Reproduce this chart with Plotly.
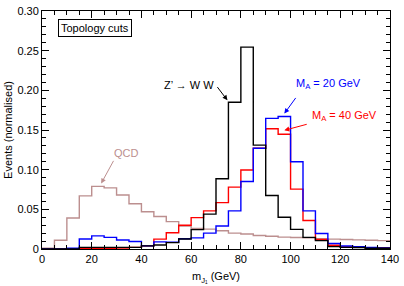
import plotly.graph_objects as go

bin_edges = list(range(0, 145, 5))
qcd = [0.001, 0.011, 0.039, 0.067, 0.079, 0.077, 0.068, 0.057, 0.047, 0.041,
       0.0345, 0.029, 0.026, 0.025, 0.023, 0.020, 0.019, 0.017, 0.016, 0.015,
       0.0145, 0.014, 0.013, 0.0125, 0.012, 0.0115, 0.011, 0.0105]
zprime = [0.0, 0.0, 0.0, 0.002, 0.002, 0.002, 0.002, 0.002, 0.004, 0.005,
          0.008, 0.0126, 0.0244, 0.044, 0.0886, 0.185, 0.2545, 0.131, 0.0675, 0.040,
          0.0248, 0.0146, 0.0106, 0.003, 0.002, 0.0018, 0.001, 0.001]
ma20 = [0.0, 0.0, 0.001, 0.0126, 0.0165, 0.0146, 0.0114, 0.0095, 0.004, 0.009,
        0.0085, 0.013, 0.014, 0.020, 0.029, 0.048, 0.085, 0.127, 0.1646, 0.167,
        0.110, 0.048, 0.0195, 0.007, 0.0037, 0.0028, 0.002, 0.0013]
ma40 = [0.0, 0.0, 0.0, 0.0005, 0.001, 0.001, 0.0012, 0.002, 0.004, 0.0125,
        0.0205, 0.030, 0.0395, 0.048, 0.0585, 0.078, 0.0995, 0.127, 0.1516, 0.1447,
        0.0755, 0.036, 0.012, 0.0048, 0.0025, 0.002, 0.0015, 0.0015]

x_ticks = [0, 20, 40, 60, 80, 100, 120, 140]
y_ticks = [0, 0.05, 0.10, 0.15, 0.20, 0.25, 0.30]
y_ticktext = ["0", "0.05", "0.10", "0.15", "0.20", "0.25", "0.30"]

FONT = "Liberation Sans, Arial, Helvetica, sans-serif"

def step(vals):
    return bin_edges[:], vals + [vals[-1]]

fig = go.Figure()
series = [(qcd, "#bc8f8f"), (ma40, "#ff0000"), (ma20, "#0000ff"), (zprime, "#000000")]
for vals, col in series:
    xs, ys = step(vals)
    fig.add_trace(go.Scatter(x=xs, y=ys, mode="lines", line=dict(shape="hv", color=col, width=1.4),
                             showlegend=False, hoverinfo="skip"))

axis_common = dict(showline=True, linecolor="black", linewidth=1, mirror="allticks",
                   ticks="inside", ticklen=7, tickcolor="black", tickwidth=1,
                   showgrid=False, zeroline=False, ticklabeloverflow="allow",
                   tickfont=dict(family=FONT, size=11, color="black"))

fig.update_xaxes(range=[0, 140.001], tickvals=x_ticks,
                 minor=dict(dtick=5, ticks="inside", ticklen=4, tickcolor="black", showgrid=False),
                 title=dict(text="m<sub>J₁</sub> (GeV)", font=dict(family=FONT, size=11, color="black"), standoff=8),
                 **axis_common)
fig.update_yaxes(range=[0, 0.30001], tickvals=y_ticks, ticktext=y_ticktext,
                 minor=dict(dtick=0.01, ticks="inside", ticklen=4, tickcolor="black", showgrid=False),
                 title=dict(text="Events (normalised)", font=dict(family=FONT, size=11, color="black"), standoff=2),
                 **axis_common)

def label(x, y, text, color):
    fig.add_annotation(x=x, y=y, xref="x", yref="y", text=text, showarrow=False,
                       font=dict(family=FONT, size=11, color=color))

def arrow(x0, y0, x1, y1, color):
    fig.add_annotation(x=x1, y=y1, ax=x0, ay=y0, xref="x", yref="y", axref="x", ayref="y",
                       text="", showarrow=True, arrowhead=2, arrowsize=1, arrowwidth=1,
                       arrowcolor=color)

label(33.9, 0.121, "QCD", "#bc8f8f")
arrow(29.1, 0.113, 23.8, 0.0826, "#bc8f8f")
label(59, 0.2065, "Z’ → W W", "black")
arrow(70.1, 0.206, 74.6, 0.1874, "black")
label(115.3, 0.2085, "M<sub>A</sub> = 20 GeV", "#0000ff")
arrow(102.5, 0.1923, 97.5, 0.1707, "#0000ff")
label(121.7, 0.168, "M<sub>A</sub> = 40 GeV", "#ff0000")
arrow(107.1, 0.1577, 97.5, 0.1496, "#ff0000")

fig.add_annotation(x=6.3, y=0.2785, xref="x", yref="y", xanchor="left", yanchor="middle",
                   text="Topology cuts", showarrow=False, bordercolor="black", borderwidth=1,
                   borderpad=2, bgcolor="white", font=dict(family=FONT, size=11, color="black"))

fig.update_layout(width=404, height=286, margin=dict(l=42, r=11, t=5, b=35),
                  plot_bgcolor="white", paper_bgcolor="white")

fig.write_html("out.html", config={"displayModeBar": False},
               post_script="document.body.style.margin='0';document.body.style.overflow='hidden';")
